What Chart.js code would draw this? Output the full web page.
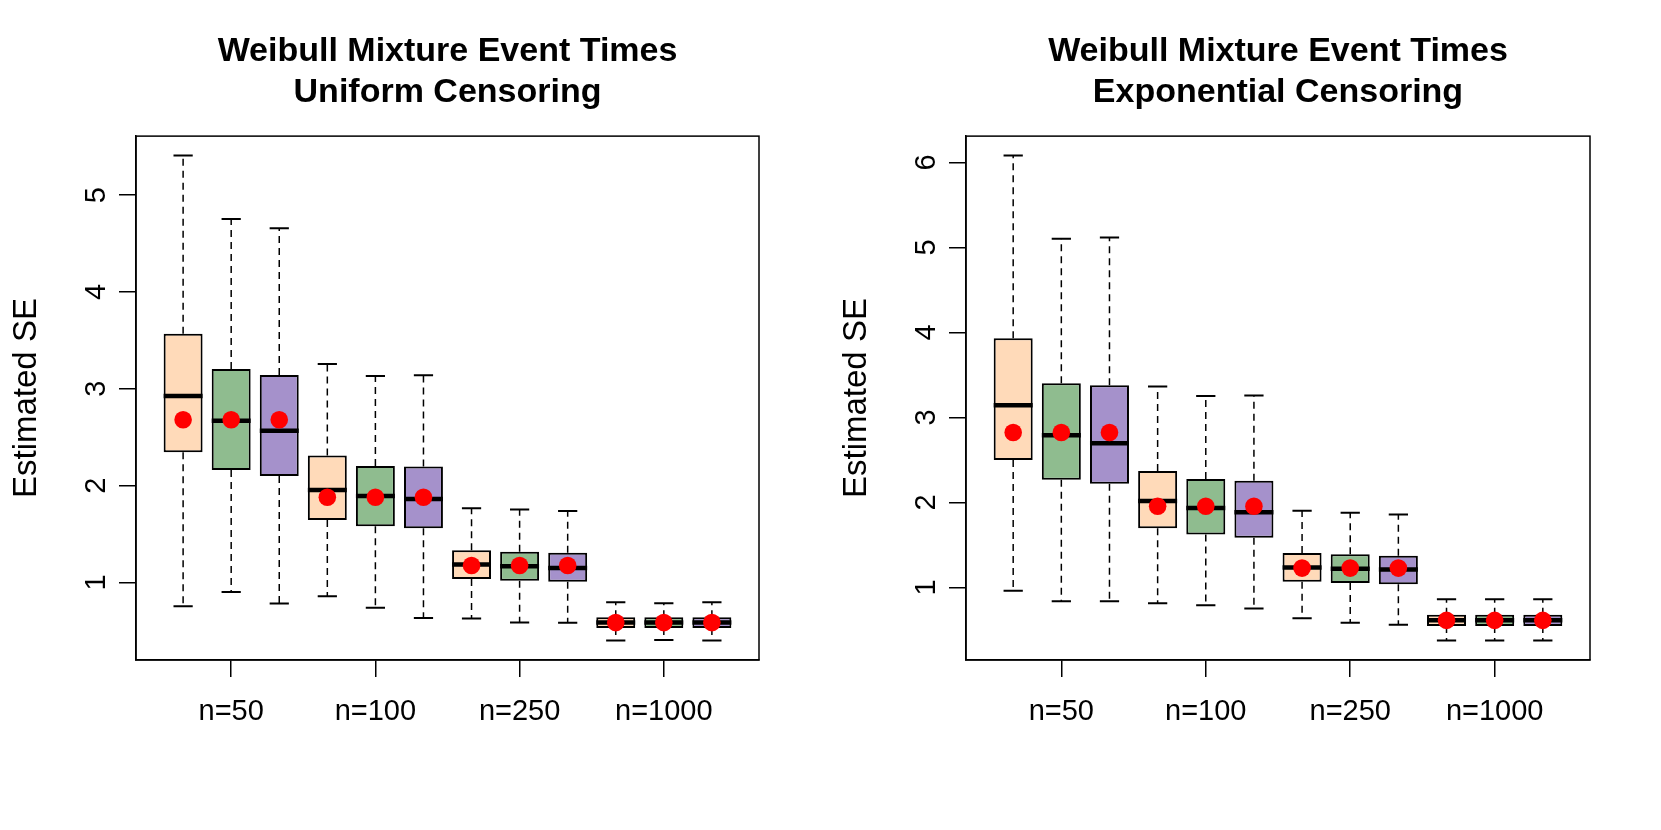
<!DOCTYPE html>
<html>
<head>
<meta charset="utf-8">
<title>Estimated SE boxplots</title>
<script src="https://cdn.jsdelivr.net/npm/chart.js@4.4.0/dist/chart.umd.min.js"></script>
<style>
  body { margin: 0; background: #fff; }
  canvas { position: absolute; top: 0; }
  #uniformChart { left: 0; }
  #expChart { left: 830px; }
</style>
</head>
<body>
<canvas id="uniformChart" width="830" height="830"></canvas>
<canvas id="expChart" width="831" height="830"></canvas>
<script>
// group labels on the x axis, 3 methods per group
const groupLabels = ['n=50', 'n=100', 'n=250', 'n=1000'];

// Uniform censoring (left panel)
const uniLow  = [0.754, 0.900, 0.783, 0.858, 0.737, 0.633, 0.626, 0.587, 0.584, 0.399, 0.406, 0.399];
const uniQ1   = [2.345, 2.160, 2.100, 1.644, 1.580, 1.559, 1.036, 1.018, 1.007, 0.530, 0.530, 0.530];
const uniMed  = [2.925, 2.669, 2.566, 1.954, 1.893, 1.861, 1.185, 1.167, 1.149, 0.585, 0.585, 0.585];
const uniQ3   = [3.569, 3.203, 3.142, 2.310, 2.203, 2.196, 1.331, 1.317, 1.306, 0.639, 0.639, 0.639];
const uniHigh = [5.409, 4.754, 4.658, 3.256, 3.132, 3.139, 1.765, 1.754, 1.737, 0.794, 0.784, 0.794];
const uniMean = [2.680, 2.680, 2.680, 1.879, 1.879, 1.879, 1.174, 1.174, 1.174, 0.585, 0.585, 0.585];

// Exponential censoring (right panel)
const expLow  = [0.960, 0.838, 0.838, 0.814, 0.789, 0.753, 0.636, 0.583, 0.559, 0.374, 0.374, 0.374];
const expQ1   = [2.498, 2.267, 2.219, 1.696, 1.623, 1.583, 1.065, 1.053, 1.036, 0.545, 0.545, 0.545];
const expMed  = [3.142, 2.789, 2.696, 2.016, 1.935, 1.883, 1.235, 1.219, 1.211, 0.612, 0.612, 0.612];
const expQ3   = [3.931, 3.401, 3.377, 2.368, 2.275, 2.255, 1.405, 1.389, 1.372, 0.678, 0.678, 0.678];
const expHigh = [6.081, 5.101, 5.117, 3.364, 3.251, 3.259, 1.903, 1.879, 1.858, 0.859, 0.859, 0.859];
const expMean = [2.822, 2.822, 2.822, 1.955, 1.955, 1.955, 1.227, 1.227, 1.227, 0.612, 0.612, 0.612];

const boxColors = ['#FFDAB9', '#8FBC8F', '#A591CB'];

Chart.defaults.font.family = "'Liberation Sans', Arial, Helvetica, sans-serif";
Chart.defaults.color = '#000';

// box around the plotting region, like R's box()
const frame = {
  id: 'frame',
  afterDraw: (chart) => {
    const a = chart.chartArea;
    const ctx = chart.ctx;
    ctx.save();
    ctx.strokeStyle = '#000';
    ctx.lineWidth = 1.5;
    ctx.strokeRect(a.left, a.top, a.right - a.left, a.bottom - a.top);
    ctx.restore();
  }
};

function segments(list) {
  // join [ [x0,y0,x1,y1], ... ] into one line with gaps between pieces
  let out = [];
  list.forEach((s) => {
    out.push({x: s[0], y: s[1]}, {x: s[2], y: s[3]}, {x: s[2], y: null});
  });
  return out;
}

function drawPanel(id, subtitle, low, q1, med, q3, high, mean) {
  const n = low.length;
  const pos = low.map((v, i) => i + 1);
  // R style 4% extension of the axis ranges
  const yMin = Math.min(...low), yMax = Math.max(...high);
  const yPad = (yMax - yMin) * 0.04;
  const xPad = n * 0.04;

  const whiskers = [];
  const staples = [];
  const medians = [];
  pos.forEach((x, i) => {
    whiskers.push([x, q3[i], x, high[i]], [x, q1[i], x, low[i]]);
    staples.push([x - 0.2, high[i], x + 0.2, high[i]], [x - 0.2, low[i], x + 0.2, low[i]]);
    medians.push([x - 0.405, med[i], x + 0.405, med[i]]);
  });

  const lineBase = {type: 'line', pointRadius: 0, spanGaps: false, fill: false, tension: 0, borderColor: '#000'};

  new Chart(document.getElementById(id), {
    type: 'bar',
    data: {
      datasets: [
        {
          data: pos.map((x, i) => ({x: x, y: [q1[i], q3[i]]})),
          backgroundColor: pos.map((x, i) => boxColors[i % 3]),
          borderColor: '#000',
          borderWidth: 2,
          borderSkipped: false,
          barPercentage: 0.81,
          categoryPercentage: 1,
          order: 5
        },
        Object.assign({}, lineBase, {data: segments(whiskers), borderWidth: 1.5, borderDash: [7, 5], order: 4}),
        Object.assign({}, lineBase, {data: segments(staples), borderWidth: 2, order: 3}),
        Object.assign({}, lineBase, {data: segments(medians), borderWidth: 4.5, order: 2}),
        {
          type: 'line',
          data: pos.map((x, i) => ({x: x, y: mean[i]})),
          showLine: false,
          pointRadius: 8.8,
          pointBackgroundColor: '#FF0000',
          pointBorderColor: '#FF0000',
          pointBorderWidth: 0,
          order: 1
        }
      ]
    },
    options: {
      responsive: false,
      animation: false,
      events: [],
      layout: {padding: {left: 0, right: 71, top: 0, bottom: 0}},
      plugins: {
        legend: {display: false},
        tooltip: {enabled: false},
        title: {
          display: true,
          text: ['Weibull Mixture Event Times', subtitle],
          fullSize: false,
          color: '#000',
          font: {size: 34, weight: 'bold', lineHeight: 1.215},
          padding: {top: 30.5, bottom: 23}
        }
      },
      scales: {
        x: {
          type: 'linear',
          min: 0.5 - xPad,
          max: n + 0.5 + xPad,
          offset: false,
          afterBuildTicks: (axis) => {
            axis.ticks = groupLabels.map((l, g) => ({value: g * 3 + 2}));
          },
          afterFit: (s) => { s.height = 170; },
          ticks: {
            callback: (v, i) => groupLabels[i],
            font: {size: 29},
            color: '#000',
            padding: 18,
            maxRotation: 0,
            autoSkip: false
          },
          grid: {drawOnChartArea: false, offset: false, tickLength: 17, color: '#000', lineWidth: 1.5},
          border: {display: true, color: '#000', width: 1.5}
        },
        y: {
          type: 'linear',
          min: yMin - yPad,
          max: yMax + yPad,
          afterFit: (s) => { s.width = 136; },
          ticks: {
            stepSize: 1,
            includeBounds: false,
            font: {size: 29},
            color: '#000',
            minRotation: 90,
            maxRotation: 90,
            crossAlign: 'center',
            padding: 14
          },
          title: {
            display: true,
            text: 'Estimated SE',
            color: '#000',
            font: {size: 33},
            padding: {top: 7, bottom: 0}
          },
          grid: {drawOnChartArea: false, tickLength: 17, color: '#000', lineWidth: 1.5},
          border: {display: true, color: '#000', width: 1.5}
        }
      }
    },
    plugins: [frame]
  });
}

drawPanel('uniformChart', 'Uniform Censoring', uniLow, uniQ1, uniMed, uniQ3, uniHigh, uniMean);
drawPanel('expChart', 'Exponential Censoring', expLow, expQ1, expMed, expQ3, expHigh, expMean);
</script>
</body>
</html>
